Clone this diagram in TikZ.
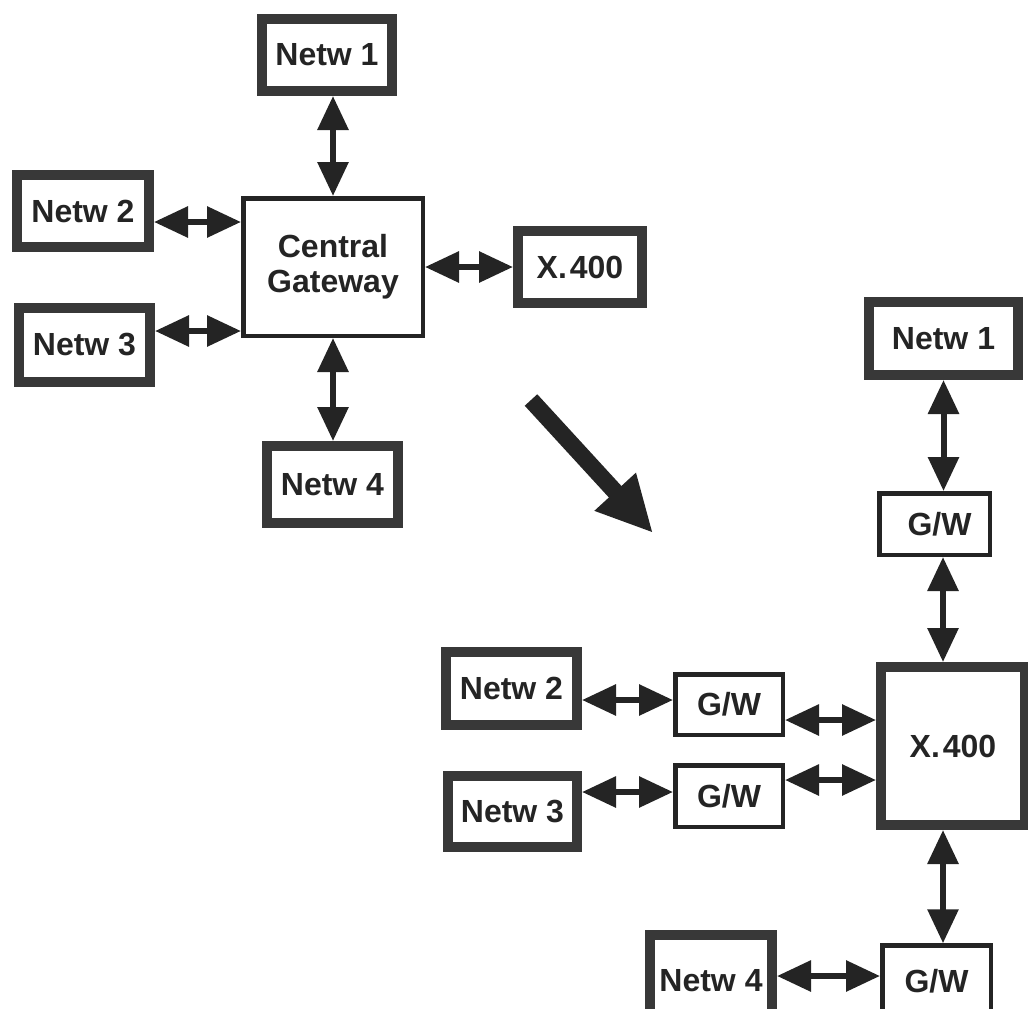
\documentclass[tikz,border=0pt]{standalone}
\usepackage{fontspec}
\setmainfont{Liberation Sans}
\usetikzlibrary{arrows.meta}
\definecolor{ink}{HTML}{242424}
\definecolor{dith}{HTML}{383838}
\begin{document}
\begin{tikzpicture}[x=1pt,y=-1pt,
  label/.style={font=\fontsize{32}{35}\selectfont\bfseries, text=ink},
  netbox/.style={label, draw=dith, line width=10pt, fill=white, inner sep=0pt},
  thinbox/.style={label, draw=ink, line width=4.5pt, fill=white, inner sep=0pt, align=center},
  link/.style={draw=ink, line width=6pt,
    {Triangle[length=34pt,width=30pt]}-{Triangle[length=34pt,width=30pt]}},
  bigarrow/.style={draw=ink, line width=17pt, -{Triangle[length=56pt,width=52pt]}}
]
\fill[white] (0,0) rectangle (1028,1009);
\useasboundingbox (0,0) rectangle (1028,1009);

% ---- left: central gateway ----
\node[thinbox, minimum width=179.5pt, minimum height=137.5pt] (cg) at (333,267) {Central\\Gateway};
\node[netbox, minimum width=130pt, minimum height=72pt] (n1l) at (327,55) {Netw 1};
\node[netbox, minimum width=132pt, minimum height=72pt] (n2l) at (83,211) {Netw 2};
\node[netbox, minimum width=131pt, minimum height=74pt] (n3l) at (84.5,345) {Netw 3};
\node[netbox, minimum width=131pt, minimum height=77pt] (n4l) at (332.5,484.5) {Netw 4};
\node[netbox, minimum width=124pt, minimum height=72pt] (x4s) at (580,267) {X.\kern3pt400};

\draw[link] (n1l.south -| cg.north) -- (cg.north);
\draw[link] ([yshift=-11pt]n2l.east) -- ([yshift=-11pt]n2l.east -| cg.west);
\draw[link] ([yshift=14pt]n3l.east) -- ([yshift=14pt]n3l.east -| cg.west);
\draw[link] (cg.east) -- (x4s.west);
\draw[link] (cg.south) -- (cg.south |- n4l.north);

% ---- transition arrow ----
\coordinate (da) at (531,400);
\coordinate (db) at (653,533);
\draw[bigarrow] (da) -- (db);

% ---- right: X.400 backbone ----
\node[netbox, minimum width=144pt, minimum height=158pt] (x4b) at (953,746) {X.\kern3pt400};
\node[netbox, minimum width=149pt, minimum height=73pt] (n1r) at (943.5,338.5) {Netw 1};
\node[thinbox, minimum width=110.5pt, minimum height=61.5pt] (gwt) at (934.5,524) {\hspace{10pt}G/W};
\node[thinbox, minimum width=107.5pt, minimum height=60.5pt] (gw2) at (729,704.5) {G/W};
\node[thinbox, minimum width=107.5pt, minimum height=61.5pt] (gw3) at (729,796) {G/W};
\node[netbox, minimum width=131pt, minimum height=73pt] (n2r) at (511.5,688.5) {Netw 2};
\node[netbox, minimum width=129pt, minimum height=71pt] (n3r) at (512.5,811.5) {Netw 3};
\node[netbox, minimum width=122pt, minimum height=92pt] (n4r) at (711,981) {Netw 4};
\node[thinbox, minimum width=108.5pt, minimum height=72pt] (gwb) at (936.5,981.5) {G/W};

\draw[link] (n1r.south) -- (n1r.south |- gwt.north);
\draw[link] ([xshift=8.5pt]gwt.south) -- ([xshift=8.5pt]gwt.south |- x4b.north);
\draw[link] ([yshift=-11.5pt]n2r.east) -- ([yshift=-11.5pt]n2r.east -| gw2.west);
\draw[link] ([yshift=-15.5pt]gw2.east) -- ([yshift=-15.5pt]gw2.east -| x4b.west);
\draw[link] ([yshift=19.5pt]n3r.east) -- ([yshift=19.5pt]n3r.east -| gw3.west);
\draw[link] ([yshift=16pt]gw3.east) -- ([yshift=16pt]gw3.east -| x4b.west);
\draw[link] ([xshift=-10pt]x4b.south) -- ([xshift=-10pt]x4b.south |- gwb.north);
\draw[link] ([yshift=5pt]n4r.east) -- ([yshift=5pt]n4r.east -| gwb.west);
\end{tikzpicture}
\end{document}
